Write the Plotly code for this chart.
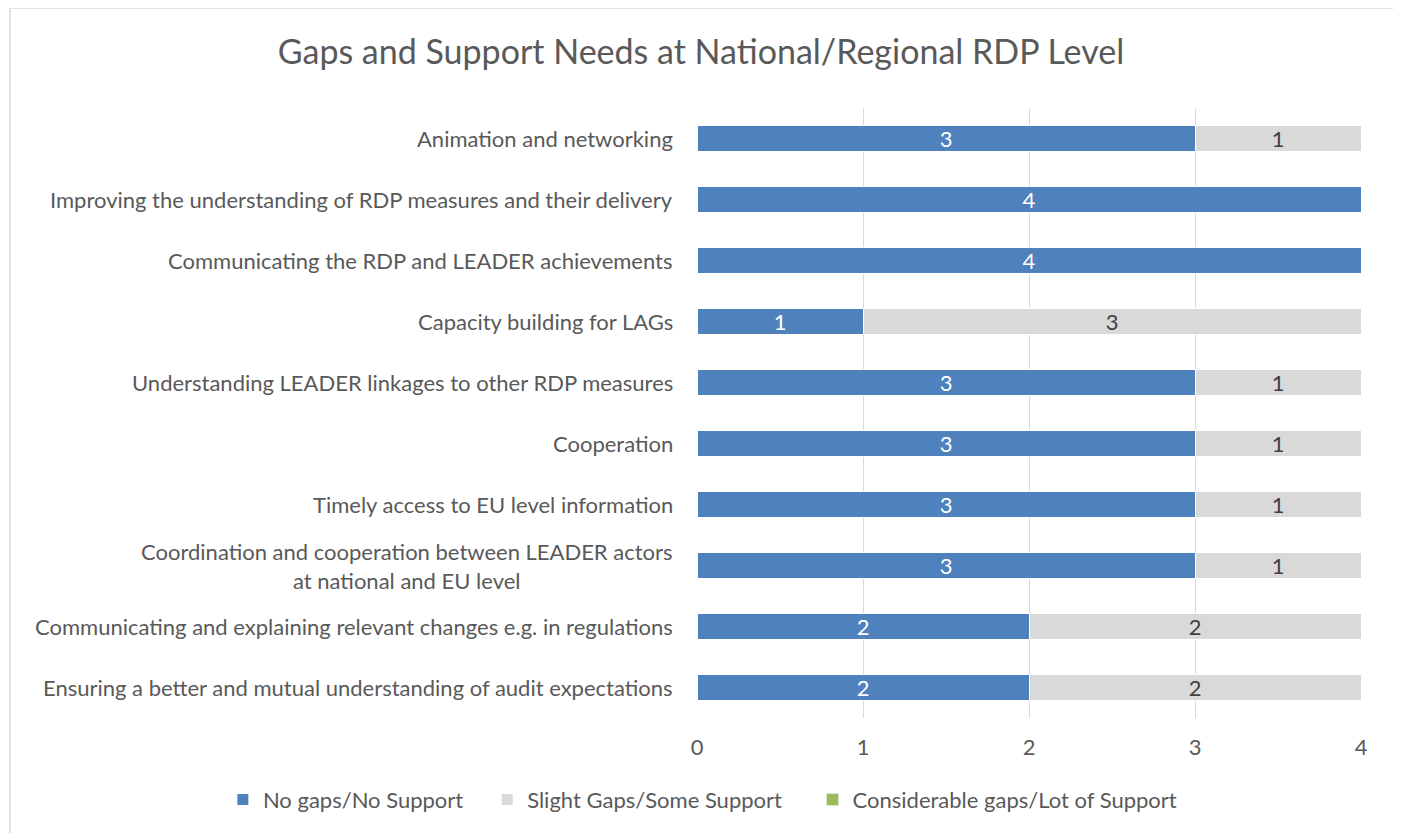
import plotly.graph_objects as go

# ── Data (top to bottom as shown) ─────────────────────────────────────────────
categories = [
    "Animation and networking",
    "Improving the understanding of RDP measures and their delivery",
    "Communicating the RDP and LEADER achievements",
    "Capacity building for LAGs",
    "Understanding LEADER linkages to other RDP measures",
    "Cooperation",
    "Timely access to EU level information",
    "Coordination and cooperation between LEADER actors<br>at national and EU level",
    "Communicating and explaining relevant changes e.g. in regulations",
    "Ensuring a better and mutual understanding of audit expectations",
]
no_gaps = [3, 4, 4, 1, 3, 3, 3, 3, 2, 2]
slight_gaps = [1, 0, 0, 3, 1, 1, 1, 1, 2, 2]
considerable_gaps = [0, 0, 0, 0, 0, 0, 0, 0, 0, 0]

series_names = [
    "No gaps/No Support",
    "Slight Gaps/Some Support",
    "Considerable gaps/Lot of Support",
]
x_ticks = [0, 1, 2, 3, 4]

_BLUE = "#4F81BD"
_GRAY = "#D9D9D9"
_GREEN = "#9BBB59"
_TEXT = "#595959"
_FONT = "Lato, 'Open Sans', sans-serif"
_FS = 22

fig = go.Figure()

fig.add_trace(go.Bar(
    y=categories, x=no_gaps, name=series_names[0], orientation="h",
    marker=dict(color=_BLUE, line=dict(color="white", width=1)),
    text=[str(v) if v else "" for v in no_gaps],
    textposition="inside", insidetextanchor="middle", textangle=0,
    constraintext="none",
    textfont=dict(color="white", size=_FS, family=_FONT),
    legend="legend",
))
fig.add_trace(go.Bar(
    y=categories, x=slight_gaps, name=series_names[1], orientation="h",
    marker=dict(color=_GRAY, line=dict(color="white", width=1)),
    text=[str(v) if v else "" for v in slight_gaps],
    textposition="inside", insidetextanchor="middle", textangle=0,
    constraintext="none",
    textfont=dict(color="#404040", size=_FS, family=_FONT),
    legend="legend2",
))
fig.add_trace(go.Bar(
    y=categories, x=considerable_gaps, name=series_names[2], orientation="h",
    marker=dict(color=_GREEN),
    legend="legend3",
))

# category labels as annotations so the wrapped label can centre its lines
for cat in categories:
    fig.add_annotation(
        x=0, xref="paper", xanchor="right", xshift=-22,
        y=cat, yref="y", text=cat, showarrow=False,
        align="center", font=dict(size=_FS, color=_TEXT, family=_FONT),
    )

# outer chart border
fig.add_shape(
    type="rect", xref="paper", yref="paper",
    x0=-1.0346, x1=1.0527, y0=-0.2, y1=1.1639,
    line=dict(color="#D9D9D9", width=1.5), fillcolor="rgba(0,0,0,0)",
    layer="below",
)


def _legend(x):
    return dict(
        orientation="h", xref="paper", x=x, xanchor="left",
        yref="paper", y=-0.134, yanchor="middle",
        font=dict(size=_FS, color=_TEXT, family=_FONT),
        bgcolor="rgba(0,0,0,0)",
    )


fig.update_layout(
    barmode="stack",
    bargap=0.56,
    width=1401, height=833,
    paper_bgcolor="white", plot_bgcolor="white",
    font=dict(family=_FONT, color=_TEXT),
    margin=dict(l=689, r=48, t=100, b=123),
    title=dict(
        text="Gaps and Support Needs at National/Regional RDP Level",
        x=693 / 1401, xanchor="center", xref="container",
        y=1 - 44 / 833, yanchor="middle", yref="container",
        font=dict(size=34, color=_TEXT, family=_FONT),
    ),
    xaxis=dict(
        range=[0, 4], tickvals=x_ticks, showgrid=True,
        gridcolor="#D9D9D9", gridwidth=1, zeroline=False,
        showline=False, ticks="", ticklabelstandoff=14,
        tickfont=dict(size=_FS, color=_TEXT),
        fixedrange=True,
    ),
    yaxis=dict(
        autorange="reversed", showticklabels=False, showgrid=False,
        zeroline=False, showline=False, ticks="",
    ),
    legend=_legend(-0.714),
    legend2=_legend(-0.316),
    legend3=_legend(0.174),
    showlegend=True,
)

fig.write_html("out.html")
